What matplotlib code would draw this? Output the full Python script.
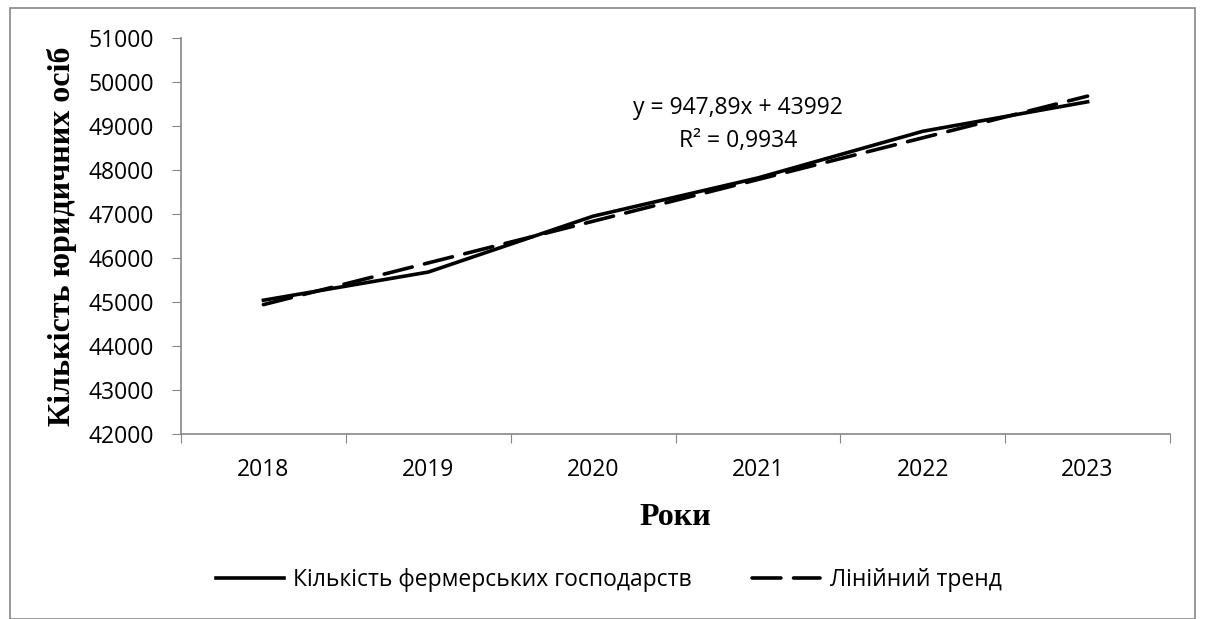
import numpy as np
import matplotlib
matplotlib.use('Agg')
import matplotlib.pyplot as plt
from matplotlib.patches import Rectangle

# data
years = ['2018', '2019', '2020', '2021', '2022', '2023']
farms = [45040, 45680, 46950, 47820, 48880, 49550]
slope, intercept = 947.89, 43992
r2_text = 'R² = 0,9934'
eq_text = 'y = 947,89x + 43992'

x = np.arange(1, len(years) + 1)
trend = slope * x + intercept

fig = plt.figure(figsize=(12.05, 6.19), dpi=100)
# outer chart border
fig.patches.append(Rectangle((10 / 1205, 0.0), 1185 / 1205, 1 - 8 / 619, transform=fig.transFigure,
                             fill=False, edgecolor='#868686', linewidth=1.2))

ax = fig.add_axes([181 / 1205, 1 - 434 / 619, (1170 - 181) / 1205, (434 - 38) / 619])

ax.plot(x, farms, color='black', linewidth=2.6, solid_joinstyle='round', label='Кількість фермерських господарств')
ax.plot(x, trend, color='black', linewidth=2.6, dashes=(8, 3.5), dash_capstyle='round', label='Лінійний тренд')

ax.set_xlim(0.5, len(years) + 0.5)
ax.set_ylim(42000, 51000)
ax.set_yticks(np.arange(42000, 51001, 1000))
ax.set_xticks(np.arange(0.5, len(years) + 1, 1))
ax.set_xticklabels([])
ax.set_xticks(x, minor=True)
ax.set_xticklabels(years, minor=True)

fs = 16.5
for lab in ax.get_yticklabels() + ax.get_xticklabels(minor=True):
    lab.set_fontfamily('Open Sans')
    lab.set_fontsize(fs)

ax.tick_params(axis='y', direction='out', length=6.5, color='#868686', pad=13)
ax.tick_params(axis='x', which='major', direction='out', length=6.5, color='#868686')
ax.tick_params(axis='x', which='minor', length=0, pad=17)

for s in ['top', 'right']:
    ax.spines[s].set_visible(False)
for s in ['left', 'bottom']:
    ax.spines[s].set_color('#868686')
    ax.spines[s].set_linewidth(1.2)

ax.set_ylabel('Кількість юридичних осіб', family='Liberation Serif', fontweight='bold', fontsize=23)
ax.yaxis.set_label_coords(-0.105, 0.5)
ax.set_xlabel('Роки', family='Liberation Serif', fontweight='bold', fontsize=23)
ax.xaxis.set_label_coords(0.5, -0.175)

ax.text(0.563, 0.853, eq_text + '\n' + r2_text, transform=ax.transAxes, ha='center', va='top',
        linespacing=1.5, family='Open Sans', fontsize=fs)

fig.legend(loc='center', bbox_to_anchor=(0.505, 1 - 580 / 619), ncol=2, frameon=False,
           prop=dict(family='Open Sans', size=fs), handlelength=3.0, columnspacing=2.6, handletextpad=0.4)

fig.savefig('out.png', dpi=100)
